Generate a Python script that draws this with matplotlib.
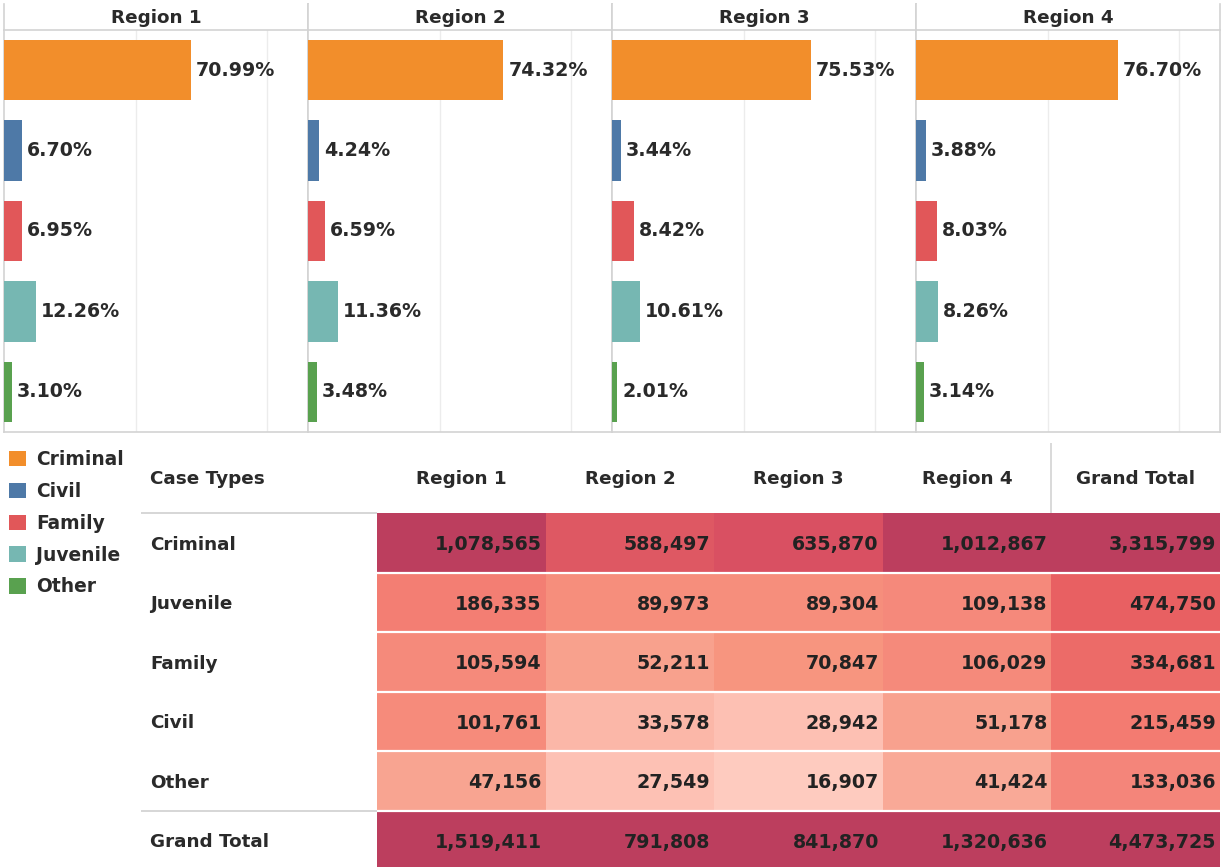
import matplotlib
matplotlib.use("Agg")
import matplotlib.pyplot as plt
import numpy as np
from matplotlib.colors import LinearSegmentedColormap, LogNorm
from matplotlib.patches import Patch

# ---------------- data ----------------
regions = ["Region 1", "Region 2", "Region 3", "Region 4"]
case_types = ["Criminal", "Civil", "Family", "Juvenile", "Other"]
case_colors = ["#f28e2b", "#4e79a7", "#e15759", "#76b7b2", "#59a14f"]
pct_r1 = [70.99, 6.70, 6.95, 12.26, 3.10]
pct_r2 = [74.32, 4.24, 6.59, 11.36, 3.48]
pct_r3 = [75.53, 3.44, 8.42, 10.61, 2.01]
pct_r4 = [76.70, 3.88, 8.03, 8.26, 3.14]
pct_by_region = [pct_r1, pct_r2, pct_r3, pct_r4]

table_rows = ["Criminal", "Juvenile", "Family", "Civil", "Other", "Grand Total"]
table_cols = ["Region 1", "Region 2", "Region 3", "Region 4", "Grand Total"]
counts_criminal = [1078565, 588497, 635870, 1012867, 3315799]
counts_juvenile = [186335, 89973, 89304, 109138, 474750]
counts_family = [105594, 52211, 70847, 106029, 334681]
counts_civil = [101761, 33578, 28942, 51178, 215459]
counts_other = [47156, 27549, 16907, 41424, 133036]
counts_total = [1519411, 791808, 841870, 1320636, 4473725]

# ---------------- style ----------------
W, H = 1225, 867
FONT = "DejaVu Sans"
FS = 13.2
FS_NUM = 13.7
TXT = "#2a2a2a"
LINE = "#d3d3d3"
GRID = "#ececec"

plt.rcParams["font.family"] = [FONT]
plt.rcParams["font.weight"] = "bold"

fig = plt.figure(figsize=(W / 100, H / 100), dpi=100)
fig.patch.set_facecolor("white")


def px_rect(x0, y0, x1, y1):
    return [x0 / W, 1 - y1 / H, (x1 - x0) / W, (y1 - y0) / H]


# ---------------- top bar panels ----------------
edges = [4, 308, 612, 916, 1220]
px_per_pct = 2.63
for k, reg in enumerate(regions):
    x0, x1 = edges[k], edges[k + 1]
    # header
    hax = fig.add_axes(px_rect(x0, 4, x1, 30))
    hax.set_xticks([]); hax.set_yticks([])
    for s in ["top", "bottom"]:
        hax.spines[s].set_visible(False)
    for s in ["left", "right"]:
        hax.spines[s].set_color(LINE)
        hax.spines[s].set_linewidth(1.2)
    hax.text(0.5, 0.45, reg, ha="center", va="center", fontsize=FS,
             fontweight="bold", color=TXT, transform=hax.transAxes)

    ax = fig.add_axes(px_rect(x0, 30, x1, 432))
    vals = pct_by_region[k]
    ypos = np.arange(len(case_types))
    ax.barh(ypos, vals, height=0.75, color=case_colors, zorder=3)
    for y, v in zip(ypos, vals):
        ax.annotate(f"{v:.2f}%", (v, y), xytext=(3.5, 0), textcoords="offset points",
                    ha="left", va="center", fontsize=FS_NUM, fontweight="bold",
                    color=TXT)
    ax.set_xlim(0, (x1 - x0) / px_per_pct)
    ax.set_ylim(len(case_types) - 0.5, -0.5)
    ax.set_xticks([50, 100])
    ax.set_yticks([])
    ax.tick_params(length=0, labelbottom=False)
    ax.grid(axis="x", color=GRID, lw=1, zorder=0)
    for s in ax.spines.values():
        s.set_color(LINE)
        s.set_linewidth(1.2)

# ---------------- legend ----------------
handles = [Patch(facecolor=c, edgecolor="none") for c in case_colors]
fig.legend(handles, case_types, loc="upper left",
           bbox_to_anchor=(9 / W, 1 - 450 / H), frameon=False,
           handlelength=0.9, handleheight=0.9, handletextpad=0.55,
           labelspacing=0.69, borderpad=0, borderaxespad=0,
           prop={"family": FONT, "weight": "bold", "size": FS + 0.2},
           labelcolor=TXT)

# ---------------- heat table ----------------
data = np.array([counts_criminal, counts_juvenile, counts_family,
                 counts_civil, counts_other, counts_total], dtype=float)
nrow, ncol = data.shape
col_w = (1220 - 377) / ncol
row_h = 59.5
lab_w = (377 - 141) / col_w
head_h = (513 - 443) / row_h

cmap = LinearSegmentedColormap.from_list("tab_red", [
    (0.00, "#fecbbf"), (0.13, "#fdc0b3"), (0.17, "#fbb7a8"), (0.22, "#f9a997"),
    (0.28, "#f8a08c"), (0.35, "#f7957f"), (0.42, "#f68d7b"), (0.50, "#f4857a"),
    (0.62, "#f37c71"), (0.73, "#ec6b68"), (0.82, "#e86062"), (0.865, "#e05a63"),
    (0.89, "#d95062"), (0.935, "#bc3e5e"), (1.00, "#bc3e5e")])
norm = LogNorm(vmin=16907, vmax=1000000, clip=True)

tax = fig.add_axes(px_rect(141, 443, 1220, 443 + (nrow + head_h) * row_h))
tax.pcolormesh(np.arange(ncol + 1), np.arange(nrow + 1), data, cmap=cmap,
               norm=norm, shading="flat")
tax.set_xlim(-lab_w, ncol)
tax.set_ylim(nrow, -head_h)
tax.axis("off")

# white separators between rows
tax.hlines(np.arange(1, nrow), 0, ncol, color="white", lw=1.6)
# grey rules in label column
tax.hlines([0, nrow - 1], -lab_w, 0, color=LINE, lw=1.3)
tax.vlines([ncol - 1], -head_h, 0, color=LINE, lw=1.2)

lab_x = -lab_w + 9 / col_w
tax.text(lab_x, -head_h / 2 + 0.02, "Case Types", ha="left", va="center",
         fontsize=FS, fontweight="bold", color=TXT)
for j, c in enumerate(table_cols):
    tax.text(j + 0.5, -head_h / 2 + 0.02, c, ha="center", va="center",
             fontsize=FS, fontweight="bold", color=TXT)
for i, r in enumerate(table_rows):
    tax.text(lab_x, i + 0.53, r, ha="left", va="center",
             fontsize=FS, fontweight="bold", color=TXT)
    for j in range(ncol):
        tax.text(j + 1 - 4 / col_w, i + 0.53, f"{int(data[i, j]):,}",
                 ha="right", va="center", fontsize=FS_NUM, fontweight="bold",
                 color="#222222")

fig.savefig("out.png", dpi=100, facecolor="white")
